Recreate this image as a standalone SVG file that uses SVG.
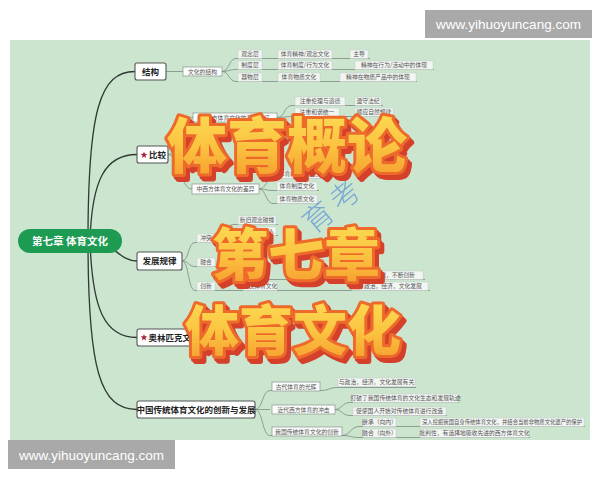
<svg xmlns="http://www.w3.org/2000/svg" width="600" height="480" viewBox="0 0 600 480">
<defs>
<style>
text{font-family:"Noto Sans CJK SC","Noto Sans",sans-serif}
.l1{fill:#fff;stroke:#555;stroke-width:1.1}
.l1t{font-size:8.5px;font-weight:700;fill:#222;text-anchor:middle}
.l2{fill:#fbfcfb;stroke:#8a948d;stroke-width:.7}
.lb{fill:#f2f6f3;stroke:#c3ccc5;stroke-width:.5}
.t6{font-size:5.8px;fill:#555;text-anchor:middle}
.main{fill:none;stroke:#2f3a33;stroke-width:1.3}
.sub{fill:none;stroke:#7d8a81;stroke-width:.8}
.big{font-weight:900;fill:url(#gold);stroke:#ee6a2c;stroke-width:6;stroke-linejoin:round;paint-order:stroke;filter:url(#shadow3d)}
.wm{fill:#a9a9a9}
.wmt{font-family:"Liberation Sans",Arial,sans-serif;font-size:13.5px;fill:#fff;text-anchor:middle}
</style>
<linearGradient id="gold" x1="0" y1="0" x2="0" y2="1">
<stop offset="0" stop-color="#fde35c"/>
<stop offset=".55" stop-color="#fbc440"/>
<stop offset="1" stop-color="#f5972c"/>
</linearGradient>
<filter id="shadow3d" x="-10%" y="-10%" width="125%" height="130%">
<feOffset in="SourceAlpha" dx="2" dy="2.5" result="o1"/>
<feOffset in="SourceAlpha" dx="4" dy="5" result="o2"/>
<feMerge result="om"><feMergeNode in="o1"/><feMergeNode in="o2"/></feMerge>
<feFlood flood-color="#d4402a"/>
<feComposite in2="om" operator="in" result="sh"/>
<feMerge><feMergeNode in="sh"/><feMergeNode in="SourceGraphic"/></feMerge>
</filter>
<path id="star" d="M0,-3.6 L0.85,-1.17 L3.42,-1.11 L1.38,0.45 L2.12,2.91 L0,1.45 L-2.12,2.91 L-1.38,0.45 L-3.42,-1.11 L-0.85,-1.17Z" fill="#a8203c"/>
</defs>
<rect width="600" height="480" fill="#fff"/>
<rect x="10" y="40" width="580" height="400" fill="#cbe5cf"/>

<g id="connectors">
<path class="main" d="M88 240 C88 110,100 71.5,135 71.5"/>
<path class="main" d="M90 240 C92 180,105 154.5,137 154.5"/>
<path class="main" d="M95 240 C115 245,120 261,137 261"/>
<path class="main" d="M90 240 C92 310,105 337.5,137 337.5"/>
<path class="main" d="M88 240 C88 370,100 409.5,137 409.5"/>
<path class="sub" d="M166 71.5H183"/>
<path class="sub" d="M222 71.5C229 71.5,229 58.5,236 58.5H370M222 71.5C229 71.5,229 69.5,236 69.5H434M222 71.5C229 71.5,229 81.5,236 81.5H417"/>
<path class="sub" d="M168 154.5C180 154.5,180 117.5,193 117.5M168 154.5C180 154.5,180 189,192 189"/>
<path class="sub" d="M277 117.5C285 117.5,284 105.5,292 105.5H383M277 117.5C285 117.5,284 116.5,292 116.5H394"/>
<path class="sub" d="M259 189C266 189,266 178.5,273 178.5H332M259 189C266 189,266 190.5,273 190.5H319M259 189C266 189,266 203.5,273 203.5H319"/>
<path class="sub" d="M182 261C189 261,188 242.5,195 242.5H216M182 261C189 261,188 266.5,195 266.5H216M182 261C189 261,188 290.5,195 290.5H216"/>
<path class="sub" d="M216 242.5C224 242.5,225 224.5,233 224.5H278M216 242.5C224 242.5,225 235.5,233 235.5H278"/>
<path class="sub" d="M216 266.5C224 266.5,225 279.5,233 279.5H425"/>
<path class="sub" d="M216 290.5H430"/>
<path class="sub" d="M255 409.5C263 409.5,262 390.5,270 390.5H322M255 409.5H270M255 409.5C263 409.5,262 435.5,270 435.5H344"/>
<path class="sub" d="M322 390.5C328 390.5,330 387.5,336 387.5H416"/>
<path class="sub" d="M335 409.5C342 409.5,342 402.5,350 402.5H459M335 409.5C342 409.5,342 415.5,350 415.5H447"/>
<path class="sub" d="M342 435.5C350 435.5,351 426.5,359 426.5H585M342 435.5C350 435.5,351 437.5,359 437.5H530"/>
</g>

<g id="root">
<rect x="18" y="229" width="104" height="24" rx="12" fill="#1e9b52"/>
<text x="70" y="244.5" font-size="10.5" font-weight="700" fill="#fff" text-anchor="middle">第七章 体育文化</text>
</g>

<g id="n-jiegou">
<rect class="l1" x="135" y="63" width="31" height="17" rx="2"/>
<text class="l1t" x="150.5" y="74.5">结构</text>
</g>
<g id="n-wenhuajiegou">
<rect class="l2" x="183" y="67" width="39" height="9"/>
<text class="t6" x="202.5" y="73.8">文化的结构</text>
</g>
<g id="n-b1-rows">
<rect class="lb" x="238" y="50" width="24" height="8.5"/><text class="t6" x="250" y="56.3">观念层</text>
<rect class="lb" x="278" y="50" width="54" height="8.5"/><text class="t6" x="305" y="56.3">体育精神/观念文化</text>
<rect class="lb" x="350" y="50" width="18" height="8.5"/><text class="t6" x="359" y="56.3">主导</text>
<rect class="lb" x="238" y="61" width="24" height="8.5"/><text class="t6" x="250" y="67.3">制度层</text>
<rect class="lb" x="278" y="61" width="54" height="8.5"/><text class="t6" x="305" y="67.3">体育制度/行为文化</text>
<rect class="lb" x="355" y="61" width="78" height="8.5"/><text class="t6" x="394" y="67.3">精神在行为/活动中的体现</text>
<rect class="lb" x="238" y="73" width="24" height="8.5"/><text class="t6" x="250" y="79.3">器物层</text>
<rect class="lb" x="278" y="73" width="42" height="8.5"/><text class="t6" x="299" y="79.3">体育物质文化</text>
<rect class="lb" x="340" y="73" width="76" height="8.5"/><text class="t6" x="378" y="79.3">精神在物质产品中的体现</text>
</g>

<g id="n-bijiao">
<rect class="l1" x="137" y="146" width="31" height="17" rx="2"/>
<use href="#star" x="144" y="155"/>
<text class="l1t" x="157.5" y="157.5">比较</text>
</g>
<g id="n-tezheng">
<rect class="l2" x="193" y="113" width="84" height="9"/>
<text class="t6" x="235" y="119.8">中西方体育文化的基本特征</text>
<rect class="lb" x="295" y="97" width="50" height="8.5"/><text class="t6" x="320" y="103.3">注重伦理与道德</text>
<rect class="lb" x="355" y="97" width="26" height="8.5"/><text class="t6" x="368" y="103.3">遵守法纪</text>
<rect class="lb" x="295" y="108" width="44" height="8.5"/><text class="t6" x="317" y="114.3">注重和谐统一</text>
<rect class="lb" x="355" y="108" width="38" height="8.5"/><text class="t6" x="374" y="114.3">顺应自然规律</text>
</g>
<g id="n-chayi">
<rect class="l2" x="192" y="184" width="67" height="10"/>
<text class="t6" x="225.5" y="191.3">中西方体育文化的差异</text>
<rect class="lb" x="276" y="170" width="54" height="8.5"/><text class="t6" x="303" y="176.3">体育精神/观念文化</text>
<rect class="lb" x="277" y="182" width="40" height="8.5"/><text class="t6" x="297" y="188.3">体育制度文化</text>
<rect class="lb" x="277" y="195" width="40" height="8.5"/><text class="t6" x="297" y="201.3">体育物质文化</text>
</g>

<g id="n-fazhan">
<rect class="l1" x="137" y="252" width="45" height="18" rx="2"/>
<text class="l1t" x="159.5" y="264">发展规律</text>
</g>
<g id="n-fazhan-sub">
<rect class="lb" x="197" y="234" width="18" height="8.5"/><text class="t6" x="206" y="240.3">冲突</text>
<rect class="lb" x="197" y="258" width="18" height="8.5"/><text class="t6" x="206" y="264.3">融合</text>
<rect class="lb" x="197" y="282" width="18" height="8.5"/><text class="t6" x="206" y="288.3">创新</text>
<rect class="lb" x="238" y="216" width="38" height="8.5"/><text class="t6" x="257" y="222.3">新旧观念碰撞</text>
<rect class="lb" x="238" y="227" width="38" height="8.5"/><text class="t6" x="257" y="233.3">外来文化介入</text>
<rect class="lb" x="343" y="271" width="80" height="8.5"/><text class="t6" x="383" y="277.3">立足传统基础，不断创新</text>
<rect class="lb" x="243" y="282" width="34" height="8.5"/><text class="t6" x="260" y="288.3">传统体育文化</text>
<rect class="lb" x="352" y="282" width="76" height="8.5"/><text class="t6" x="390" y="288.3">与政治，经济，文化发展</text>
</g>

<g id="n-aolinpike">
<rect class="l1" x="137" y="329" width="62" height="17" rx="2"/>
<use href="#star" x="144" y="337.5"/>
<text class="l1t" x="174" y="340.5">奥林匹克文化</text>
</g>

<g id="n-chuantong">
<rect class="l1" x="137" y="401" width="118" height="17" rx="2"/>
<text class="l1t" x="196" y="412.8">中国传统体育文化的创新与发展</text>
</g>
<g id="n-chuantong-sub">
<rect class="l2" x="272" y="382" width="48" height="9"/><text class="t6" x="296" y="388.6">古代体育的光辉</text>
<rect class="l2" x="272" y="405" width="63" height="9"/><text class="t6" x="303.5" y="411.6">近代西方体育的冲击</text>
<rect class="l2" x="272" y="427" width="70" height="9"/><text class="t6" x="307" y="433.6">我国传统体育文化的创新</text>
<rect class="lb" x="338" y="378" width="77" height="8.5"/><text class="t6" x="376.5" y="384.3">与政治，经济，文化发展有关</text>
<rect class="lb" x="353" y="394" width="105" height="8.5"/><text class="t6" x="405.5" y="400.3">打破了我国传统体育的文化生态和发展轨迹</text>
<rect class="lb" x="353" y="407" width="93" height="8.5"/><text class="t6" x="399.5" y="413.3">促使国人开始对传统体育进行改造</text>
<rect class="lb" x="363" y="418" width="33" height="8.5"/><text class="t6" x="379.5" y="424.3">继承（向内）</text>
<rect class="lb" x="363" y="429" width="33" height="8.5"/><text class="t6" x="379.5" y="435.3">融合（向外）</text>
<rect class="lb" x="420" y="418" width="164" height="8.5"/><text class="t6" x="502" y="424.3" textLength="160" lengthAdjust="spacingAndGlyphs">深入挖掘我国自身传统体育文化，并结合当前非物质文化遗产的保护</text>
<rect class="lb" x="420" y="429" width="109" height="8.5"/><text class="t6" x="474.5" y="435.3">批判性，有选择地吸收先进的西方体育文化</text>
</g>

<g id="watermark-blue" opacity=".75">
<text x="318" y="228" font-size="30" font-weight="300" fill="#5f95d6" text-anchor="middle" transform="rotate(-40 318 217)">育</text>
<text x="345" y="206" font-size="30" font-weight="300" fill="#5f95d6" text-anchor="middle" transform="rotate(-40 345 195)">考</text>
</g>

<g id="title-overlay">
<text class="big" x="167" y="168" font-size="60">体育概论</text>
<text class="big" x="212" y="275" font-size="56">第七章</text>
<text class="big" x="185" y="351" font-size="54">体育文化</text>
</g>

<g id="site-watermarks">
<rect class="wm" x="425" y="10" width="167" height="28"/>
<text class="wmt" x="508.5" y="29">www.yihuoyuncang.com</text>
<rect class="wm" x="8" y="440" width="167" height="29"/>
<text class="wmt" x="91.5" y="459.5">www.yihuoyuncang.com</text>
</g>
</svg>
